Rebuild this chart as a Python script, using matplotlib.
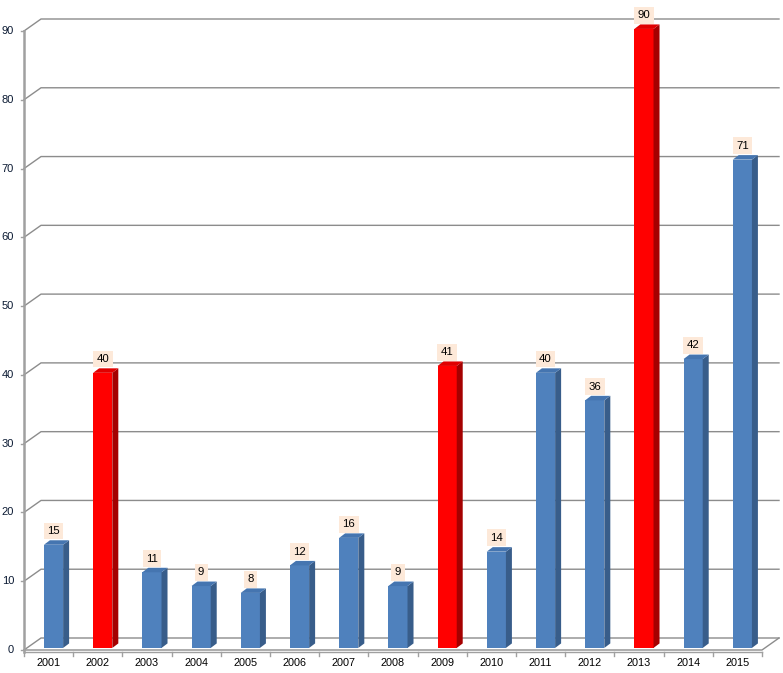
import matplotlib
matplotlib.use("Agg")
import matplotlib.pyplot as plt
from matplotlib.patches import Polygon

# data
years = ["2001", "2002", "2003", "2004", "2005", "2006", "2007", "2008",
         "2009", "2010", "2011", "2012", "2013", "2014", "2015"]
counts = [15, 40, 11, 9, 8, 12, 16, 9, 41, 14, 40, 36, 90, 42, 71]
highlight = ["2002", "2009", "2013"]
y_ticks = [0, 10, 20, 30, 40, 50, 60, 70, 80, 90]

BLUE = ("#4F81BD", "#385D8A", "#4575B0")
RED = ("#FF0000", "#A50000", "#E00000")
GRID = "#8C8C8C"
LABEL_BG = "#FDE9D9"

W, H = 783, 673
fig = plt.figure(figsize=(W / 100, H / 100), dpi=100)
# front plane: x 24..762 px, y 650..31 px (from top)
ax = fig.add_axes([24 / W, (H - 650) / H, (762 - 24) / W, (650 - 31) / H])
n = len(years)
ax.set_xlim(-0.5, n - 0.5)
ax.set_ylim(0, 90)
ax.axis("off")

# depth offset of back wall, in data units
px_x = (762 - 24) / n
px_y = (650 - 31) / 90
ddx = 17 / px_x
ddy = 12 / px_y

x0, x1 = -0.5, n - 0.5

# gridlines on the left wall and back wall
for v in y_ticks:
    ax.plot([x0, x0 + ddx, x1 + ddx], [v, v + ddy, v + ddy],
            color=GRID, lw=1, clip_on=False, zorder=1)
# floor
ax.plot([x0, x1, x1 + ddx], [0, 0, ddy], color=GRID, lw=1,
        clip_on=False, zorder=1)

# left axis
ax.plot([x0, x0], [-0.3, 90], color="#A0A0A0", lw=1.8, clip_on=False, zorder=5)
for v in y_ticks:
    ax.plot([x0 - 3 / px_x, x0], [v, v], color="#A0A0A0", lw=1,
            clip_on=False, zorder=5)
    ax.text(x0 - 10 / px_x, v, str(v), ha="right", va="center",
            fontsize=8, family="Liberation Sans", color="#0b1a33")

# bottom axis ticks and labels
ax.plot([x0, x1], [-0.3, -0.3], color="#A0A0A0", lw=1, clip_on=False, zorder=5)
for i in range(n + 1):
    ax.plot([x0 + i, x0 + i], [-0.3, -0.3 - 4 / px_y], color="#A0A0A0",
            lw=1, clip_on=False, zorder=5)
for i, yr in enumerate(years):
    ax.text(i, -13 / px_y, yr, ha="center", va="center",
            fontsize=7.8, family="Liberation Sans", color="black")

# bars (front face + side + top)
bw = 0.39
shift = 0.1
base = 0.3
sdx = 6 / px_x
sdy = 4.5 / px_y
for i, (yr, v) in enumerate(zip(years, counts)):
    front, side, top = RED if yr in highlight else BLUE
    left = i + shift - bw / 2
    right = i + shift + bw / 2
    ax.bar(i + shift, v, width=bw, bottom=base, color=front,
           edgecolor="none", zorder=3, clip_on=False)
    ax.add_patch(Polygon([(right, base), (right + sdx, base + sdy),
                          (right + sdx, base + v + sdy), (right, base + v)],
                         closed=True, facecolor=side, edgecolor="none",
                         zorder=3, clip_on=False))
    ax.add_patch(Polygon([(left, base + v), (right, base + v),
                          (right + sdx, base + v + sdy),
                          (left + sdx, base + v + sdy)],
                         closed=True, facecolor=top, edgecolor="none",
                         zorder=3, clip_on=False))
    ax.text(i + shift, v + base + 2.0, str(v), ha="center", va="center",
            fontsize=8.2, family="Liberation Sans", color="black", zorder=6,
            bbox=dict(boxstyle="square,pad=0.3", facecolor=LABEL_BG,
                      edgecolor="none"))

fig.savefig("out.png", dpi=100, facecolor="white")
